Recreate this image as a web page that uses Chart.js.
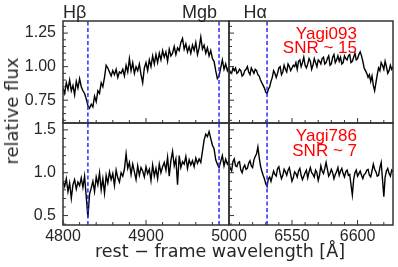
<!DOCTYPE html>
<html>
<head>
<meta charset="utf-8">
<script src="https://cdn.jsdelivr.net/npm/chart.js@4/dist/chart.umd.min.js"></script>
<style>
  html, body { margin: 0; padding: 0; background: #fff; }
  #fig { position: relative; width: 398px; height: 267px; overflow: hidden; background: #fff; }
  #fig canvas { position: absolute; left: 0; top: 0; }
  .t { position: absolute; white-space: nowrap; line-height: 1; }
  .lbl { font-family: "Liberation Sans", Arial, sans-serif; font-size: 18px; color: #262626; }
  .red { font-family: "Liberation Sans", Arial, sans-serif; font-size: 17px; color: #ff0000; text-align: right; }
  .title { font-family: "DejaVu Sans", sans-serif; color: #262626; }
</style>
</head>
<body>
<div id="fig">
  <canvas id="cTL" width="398" height="267"></canvas>
  <canvas id="cTR" width="398" height="267"></canvas>
  <canvas id="cBL" width="398" height="267"></canvas>
  <canvas id="cBR" width="398" height="267"></canvas>

  <div class="t lbl" style="left:63px; top:3px;">Hβ</div>
  <div class="t lbl" style="right:181px; top:3px;">Mgb</div>
  <div class="t lbl" style="right:131px; top:3px;">Hα</div>

  <div class="t red" style="right:41px; top:24.6px;">Yagi093</div>
  <div class="t red" style="right:41px; top:38.6px;">SNR ~ 15</div>
  <div class="t red" style="right:41px; top:127.3px;">Yagi786</div>
  <div class="t red" style="right:41px; top:142.1px;">SNR ~ 7</div>

  <div class="t title" style="left:12px; top:111px; font-size:18px; transform:translate(-50%,-50%) rotate(-90deg);">relative flux</div>
  <div class="t title" style="left:220px; top:243.2px; font-size:17.5px; transform:translateX(-50%);">rest − frame wavelength [Å]</div>
</div>

<script>
// wavelength grids (Å)
const leftWave = [4800,4802,4804,4806,4808,4810,4812,4814,4816,4818,4820,4822,4824,4826,4828,4830,4832,4834,4836,4838,
  4840,4842,4844,4846,4848,4850,4852,4854,4856,4858,4860,4862,4864,4866,4868,4870,4872,4874,4876,4878,
  4880,4882,4884,4886,4888,4890,4892,4894,4896,4898,4900,4902,4904,4906,4908,4910,4912,4914,4916,4918,
  4920,4922,4924,4926,4928,4930,4932,4934,4936,4938,4940,4942,4944,4946,4948,4950,4952,4954,4956,4958,
  4960,4962,4964,4966,4968,4970,4972,4974,4976,4978,4980,4982,4984,4986,4988,4990,4992,4994,4996,4998,5000];
const rightWave = [6502,6503,6504,6505,6506,6507,6508,6509,6510,6511,6512,6513,6514,6515,6516,6517,6518,6519,6520,6521,
  6522,6523,6524,6525,6526,6527,6528,6529,6530,6531,6532,6533,6534,6535,6536,6537,6538,6539,6540,6541,
  6542,6543,6544,6545,6546,6547,6548,6549,6550,6551,6552,6553,6554,6555,6556,6557,6558,6559,6560,6561,
  6562,6563,6564,6565,6566,6567,6568,6569,6570,6571,6572,6573,6574,6575,6576,6577,6578,6579,6580,6581,
  6582,6583,6584,6585,6586,6587,6588,6589,6590,6591,6592,6593,6594,6595,6596,6597,6598,6599,6600,6601,
  6602,6603,6604,6605,6606,6607,6608,6609,6610,6611,6612,6613,6614,6615,6616,6617,6618,6619,6620,6621,
  6622,6623,6624,6625,6626,6627];

// Yagi093 (top row)
const yagi093Left = [0.84,0.80,0.88,0.83,0.90,0.82,0.86,0.79,0.89,0.84,0.91,0.85,0.82,0.80,
  0.76,0.71,0.69,0.72,
  0.70,0.78,0.74,0.82,0.80,0.88,0.85,0.92,1.01,
  0.99,0.96,0.93,0.97,0.94,0.98,0.92,0.96,0.95,
  0.98,0.93,1.01,0.96,1.06,0.97,1.03,0.95,1.00,0.97,
  1.02,0.94,0.88,0.99,1.03,0.97,1.05,1.00,1.08,1.02,
  1.09,1.03,1.10,1.05,1.12,1.07,1.11,1.04,1.13,1.08,
  1.10,1.15,1.09,1.14,1.12,1.18,1.21,1.13,1.17,1.11,
  1.15,1.10,1.16,1.12,1.18,1.09,1.14,1.22,1.13,1.16,
  1.10,1.14,1.08,1.12,1.06,1.04,0.97,
  0.91,0.93,0.99,
  1.05,0.98,1.02,0.97,1.00];
const yagi093Right = [0.98,0.96,0.95,0.99,0.97,0.99,0.95,0.96,0.98,0.97,0.93,0.94,0.97,0.98,1.00,0.96,0.94,0.99,0.97,0.95,0.98,0.97,0.94,0.93,
  0.90,0.88,0.86,0.84,0.81,0.80,0.83,0.85,
  0.89,0.92,0.97,0.95,0.92,0.95,0.99,1.00,0.94,0.96,1.01,0.98,0.96,1.02,1.00,0.97,0.99,1.01,
  1.00,1.03,0.98,1.04,1.05,1.00,1.03,1.07,1.01,0.99,1.02,1.06,1.04,0.98,1.01,1.06,1.03,1.00,1.05,1.04,
  1.02,1.06,1.07,1.02,1.03,1.06,1.08,1.01,1.02,1.07,1.09,1.03,1.05,1.08,1.04,1.07,1.02,1.03,1.08,1.06,
  1.05,1.08,1.09,1.03,1.04,1.07,1.10,1.05,1.06,1.09,1.11,1.08,1.04,0.99,
  0.97,0.95,0.92,0.94,0.89,0.93,0.86,0.82,0.88,0.94,
  0.99,0.97,1.03,1.01,0.98,1.04,1.00,0.95,0.97,1.01,0.98,1.00];

// Yagi786 (bottom row)
const yagi786Left = [0.90,0.84,0.93,0.78,0.88,0.70,0.86,0.92,0.81,0.89,0.85,0.94,0.83,0.96,
  0.72,0.48,0.75,
  0.82,0.90,0.78,0.95,0.86,1.00,0.80,0.93,0.76,0.97,0.88,1.01,
  0.92,0.99,0.85,1.03,0.94,0.89,1.00,0.96,1.04,
  1.22,1.05,1.12,0.98,1.10,1.01,0.92,1.08,0.97,1.06,1.02,0.95,1.07,
  0.99,1.04,0.91,1.09,0.96,1.05,0.93,1.10,1.00,1.07,
  1.12,1.03,1.18,0.96,1.14,1.25,1.08,1.16,0.86,1.20,1.06,1.13,
  1.10,1.19,1.05,1.15,1.09,1.14,1.07,1.17,1.11,1.16,1.12,
  1.25,1.38,1.45,1.42,1.48,1.40,1.32,1.28,
  1.15,1.10,1.06,1.13,
  1.20,1.08,1.16,1.10,1.14];
const yagi786Right = [1.10,1.05,1.02,1.13,1.16,1.08,1.07,1.12,1.13,1.03,1.00,1.06,1.09,1.04,1.05,1.11,1.14,1.08,1.06,1.15,1.19,1.22,1.30,1.18,1.08,1.02,0.97,0.93,
  0.87,0.84,0.93,0.95,0.90,0.96,
  1.02,0.98,0.96,1.05,1.07,0.99,0.93,0.97,1.04,1.01,0.97,1.03,1.06,0.98,0.90,0.94,1.01,0.99,0.95,1.02,1.05,0.97,0.92,0.96,1.00,1.03,
  0.94,1.01,1.06,1.00,0.98,0.95,1.03,1.00,0.91,0.97,1.08,1.02,0.99,1.05,1.12,1.04,0.96,0.99,1.04,1.00,0.93,0.98,1.01,1.06,0.97,1.02,1.05,0.99,0.95,1.01,
  1.03,0.97,0.98,0.86,0.74,0.92,1.00,1.03,0.96,0.99,1.02,0.97,0.93,0.98,
  0.99,1.03,1.04,0.97,0.95,1.02,1.10,1.04,1.01,0.96,0.97,1.06,1.12,0.92,0.72,0.95,1.02,1.05,0.99,0.96,1.03,1.01];

// axis ranges, line markers, ticks
const leftXRange = [4800, 5000];
const rightXRange = [6502, 6627];
const topYRange = [0.58, 1.34];
const bottomYRange = [0.39, 1.58];
const leftLines = [4830, 4988];   // Hβ, Mgb
const rightLines = [6531];        // Hα
const leftXMajor = [4800, 4900, 5000];
const leftXMinor = [4820, 4840, 4860, 4880, 4920, 4940, 4960, 4980];
const rightXMajor = [6550, 6600];
const rightXMinor = [6510, 6520, 6530, 6540, 6560, 6570, 6580, 6590, 6610, 6620];
const topYMajor = [0.75, 1.0, 1.25];
const topYMinor = [0.6, 0.65, 0.7, 0.8, 0.85, 0.9, 0.95, 1.05, 1.1, 1.15, 1.2, 1.3];
const bottomYMajor = [0.5, 1.0, 1.5];
const bottomYMinor = [0.4, 0.6, 0.7, 0.8, 0.9, 1.1, 1.2, 1.3, 1.4];
const leftXLabels = ['4800', '4900', '5000'];
const rightXLabels = ['6550', '6600'];
const topYLabels = ['0.75', '1.00', '1.25'];
const bottomYLabels = ['0.5', '1.0', '1.5'];

const axisColor = '#333333';
const textColor = '#262626';

// frame + inward ticks
const frameTicks = {
  id: 'frameTicks',
  afterDatasetsDraw(chart, args, opts) {
    const { ctx, chartArea: a, scales: { x, y } } = chart;
    ctx.save();
    ctx.strokeStyle = axisColor;
    ctx.lineWidth = 1;
    ctx.beginPath();
    opts.xMajor.forEach(v => { const p = x.getPixelForValue(v); ctx.moveTo(p, a.bottom); ctx.lineTo(p, a.bottom - 5); });
    opts.xMinor.forEach(v => { const p = x.getPixelForValue(v); ctx.moveTo(p, a.bottom); ctx.lineTo(p, a.bottom - 3); });
    opts.yMajor.forEach(v => { const p = y.getPixelForValue(v); ctx.moveTo(a.left, p); ctx.lineTo(a.left + 5, p); });
    opts.yMinor.forEach(v => { const p = y.getPixelForValue(v); ctx.moveTo(a.left, p); ctx.lineTo(a.left + 3, p); });
    ctx.stroke();
    ctx.lineWidth = 1.5;
    ctx.strokeRect(a.left, a.top, a.right - a.left, a.bottom - a.top);
    ctx.restore();
  }
};

Chart.defaults.font.family = '"Liberation Sans", Arial, sans-serif';
Chart.defaults.color = textColor;

function makePanel(id, wave, flux, lines, xRange, yRange, xMajor, xMinor, yMajor, yMinor, xLabels, yLabels, padding) {
  const datasets = lines.map(w => ({
    data: [{ x: w, y: yRange[0] }, { x: w, y: yRange[1] }],
    borderColor: '#2b2bff',
    borderWidth: 1.5,
    borderDash: [4, 2.5],
    pointRadius: 0,
    order: 1
  }));
  datasets.push({
    data: wave.map((w, i) => ({ x: w, y: flux[i] })),
    borderColor: '#000000',
    borderWidth: 1.4,
    pointRadius: 0,
    tension: 0,
    order: 2
  });
  return new Chart(document.getElementById(id), {
    type: 'line',
    data: { datasets },
    options: {
      responsive: false,
      animation: false,
      devicePixelRatio: 1,
      layout: { padding },
      plugins: {
        legend: { display: false },
        tooltip: { enabled: false },
        frameTicks: { xMajor, xMinor, yMajor, yMinor }
      },
      scales: {
        x: {
          type: 'linear',
          min: xRange[0],
          max: xRange[1],
          display: !!xLabels,
          grid: { display: false, drawTicks: false },
          border: { display: false },
          afterBuildTicks: s => { s.ticks = xMajor.map(v => ({ value: v })); },
          afterFit: s => { if (xLabels) s.height = 30; },
          ticks: {
            callback: (v, i) => xLabels ? xLabels[i] : '',
            padding: 2,
            maxRotation: 0,
            autoSkip: false,
            font: { size: 16 },
            color: textColor
          }
        },
        y: {
          type: 'linear',
          min: yRange[0],
          max: yRange[1],
          display: !!yLabels,
          grid: { display: false, drawTicks: false },
          border: { display: false },
          afterBuildTicks: s => { s.ticks = yMajor.map(v => ({ value: v })); },
          afterFit: s => { if (yLabels) s.width = 63; },
          ticks: {
            callback: (v, i) => yLabels ? yLabels[i] : '',
            padding: 7,
            autoSkip: false,
            font: { size: 16 },
            color: textColor
          }
        }
      }
    },
    plugins: [frameTicks]
  });
}

makePanel('cTL', leftWave, yagi093Left, leftLines, leftXRange, topYRange,
  leftXMajor, leftXMinor, topYMajor, topYMinor, null, topYLabels,
  { left: 0, top: 21, right: 169, bottom: 144 });
makePanel('cTR', rightWave, yagi093Right, rightLines, rightXRange, topYRange,
  rightXMajor, rightXMinor, topYMajor, topYMinor, null, null,
  { left: 229, top: 21, right: 5, bottom: 144 });
makePanel('cBL', leftWave, yagi786Left, leftLines, leftXRange, bottomYRange,
  leftXMajor, leftXMinor, bottomYMajor, bottomYMinor, leftXLabels, bottomYLabels,
  { left: 0, top: 123, right: 169, bottom: 12 });
makePanel('cBR', rightWave, yagi786Right, rightLines, rightXRange, bottomYRange,
  rightXMajor, rightXMinor, bottomYMajor, bottomYMinor, rightXLabels, null,
  { left: 229, top: 123, right: 5, bottom: 12 });
</script>
</body>
</html>
